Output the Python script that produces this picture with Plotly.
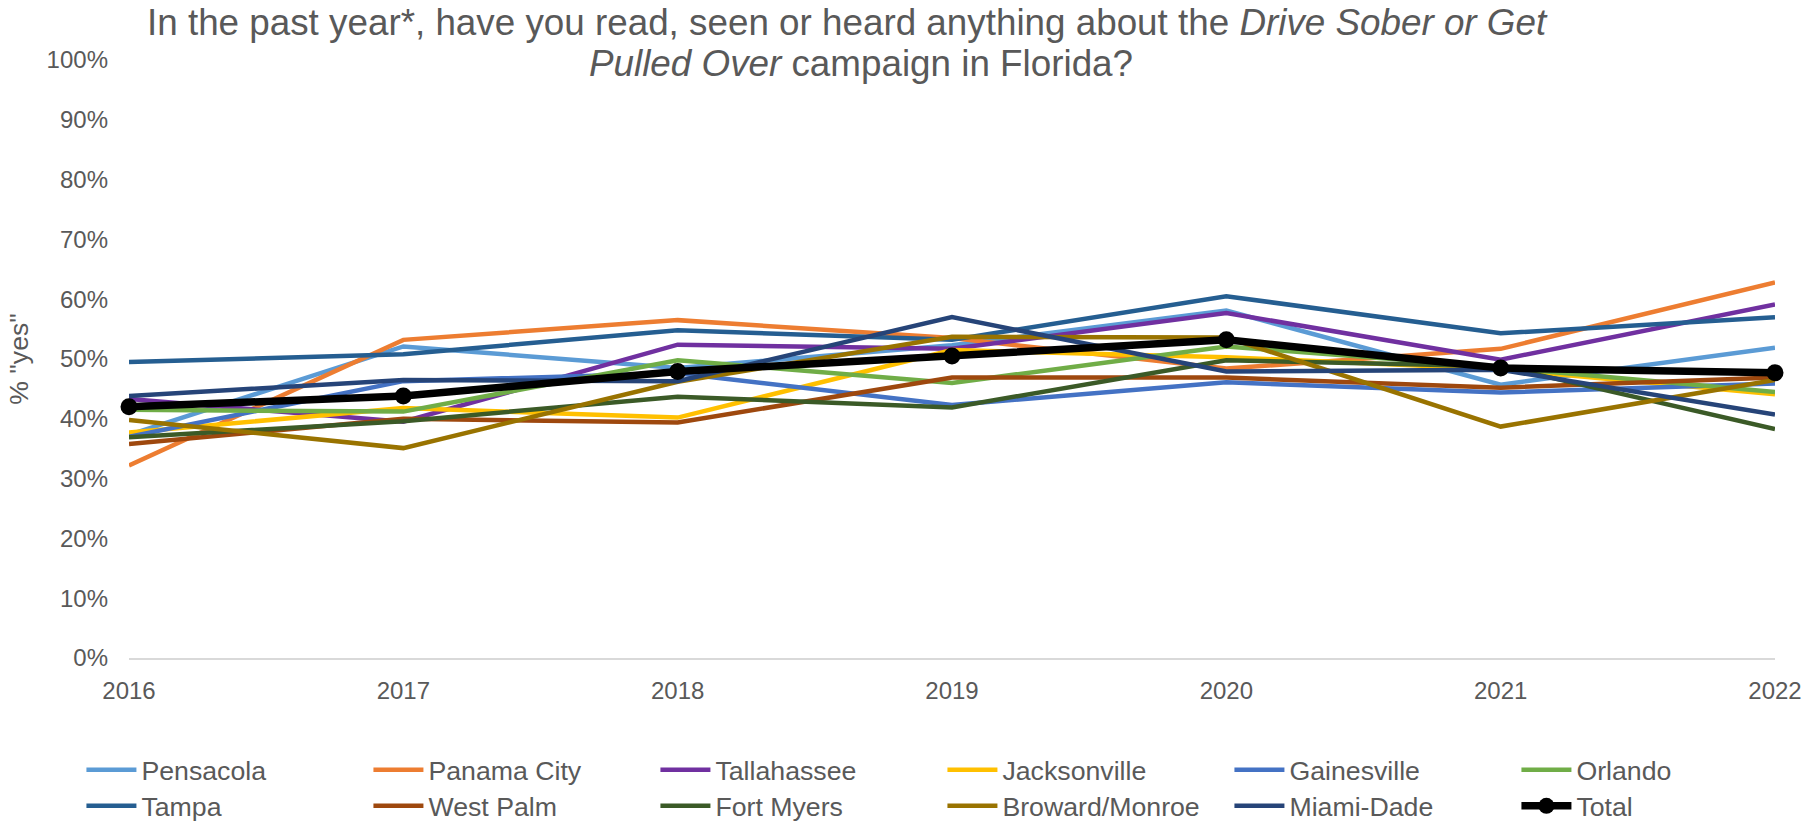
import plotly.graph_objects as go

years = [2016, 2017, 2018, 2019, 2020, 2021, 2022]

pensacola    = [37.3, 52.1, 48.5, 52.3, 58.1, 45.7, 51.9]
panama_city  = [32.2, 53.2, 56.5, 53.5, 48.4, 51.7, 62.8]
tallahassee  = [43.3, 39.5, 52.4, 51.7, 57.7, 49.9, 59.1]
jacksonville = [37.7, 41.8, 40.2, 51.5, 50.3, 48.3, 44.1]
gainesville  = [37.0, 46.3, 47.6, 42.3, 46.1, 44.4, 45.9]
orlando      = [41.5, 41.2, 49.8, 46.0, 52.1, 48.6, 44.5]
tampa        = [49.5, 50.8, 54.8, 53.2, 60.5, 54.3, 57.0]
west_palm    = [35.8, 40.0, 39.4, 46.9, 46.9, 45.2, 46.9]
fort_myers   = [36.9, 39.6, 43.7, 41.9, 49.8, 48.8, 38.3]
broward      = [39.8, 35.1, 46.2, 53.7, 53.6, 38.7, 46.5]
miami_dade   = [43.8, 46.5, 46.3, 57.0, 47.9, 48.2, 40.7]
total        = [42.0, 43.8, 47.9, 50.5, 53.2, 48.5, 47.7]

series = [
    ("Pensacola", pensacola, "#5B9BD5"),
    ("Panama City", panama_city, "#ED7D31"),
    ("Tallahassee", tallahassee, "#7030A0"),
    ("Jacksonville", jacksonville, "#FFC000"),
    ("Gainesville", gainesville, "#4472C4"),
    ("Orlando", orlando, "#70AD47"),
    ("Tampa", tampa, "#255E91"),
    ("West Palm", west_palm, "#9E480E"),
    ("Fort Myers", fort_myers, "#3B5A27"),
    ("Broward/Monroe", broward, "#997300"),
    ("Miami-Dade", miami_dade, "#264478"),
]

# legend grid: 2 rows x 6 columns, split into 4 legends of 3 entries each
legend_ids = ["legend", "legend", "legend", "legend2", "legend2", "legend2",
              "legend3", "legend3", "legend3", "legend4", "legend4", "legend4"]

fig = go.Figure()
for i, (name, vals, color) in enumerate(series):
    fig.add_trace(go.Scatter(
        x=years, y=[v / 100 for v in vals], name=name, mode="lines",
        line=dict(color=color, width=4.5), cliponaxis=False,
        legend=legend_ids[i],
    ))
fig.add_trace(go.Scatter(
    x=years, y=[v / 100 for v in total], name="Total", mode="lines+markers",
    line=dict(color="black", width=7.5), marker=dict(color="black", size=17),
    cliponaxis=False, legend=legend_ids[11],
))

grey = "#595959"
leg_common = dict(
    orientation="h", xanchor="left", yref="container",
    yanchor="middle", entrywidth=222, entrywidthmode="pixels", itemwidth=50,
    font=dict(size=26.7, color=grey), bgcolor="rgba(0,0,0,0)",
)
x_left = -0.0289
x_mid = x_left + 3 * 287 / 1646
y_row1 = 1 - 770 / 827
y_row2 = 1 - 806 / 827

fig.update_layout(
    width=1820, height=827,
    paper_bgcolor="white", plot_bgcolor="white",
    margin=dict(l=129, r=45, t=60, b=169),
    font=dict(family="Arial, Liberation Sans, sans-serif", color=grey, size=24),
    xaxis=dict(
        type="linear", range=[2016, 2022], tickvals=years,
        showgrid=False, zeroline=False, showline=True, linecolor="#D9D9D9",
        linewidth=2, ticks="", ticklabelstandoff=10,
        tickfont=dict(size=24, color=grey),
    ),
    yaxis=dict(
        range=[0, 1], dtick=0.1, tickformat=".0%", showgrid=False,
        zeroline=False, showline=False, ticks="", ticklabelstandoff=20,
        tickfont=dict(size=24, color=grey),
        title=dict(text='% "yes"', font=dict(size=26.7, color=grey), standoff=10),
    ),
    legend=dict(leg_common, x=x_left, y=y_row1),
    legend2=dict(leg_common, x=x_mid, y=y_row1),
    legend3=dict(leg_common, x=x_left, y=y_row2),
    legend4=dict(leg_common, x=x_mid, y=y_row2),
    showlegend=True,
)

title_font = dict(size=36.8, color=grey, family="Arial, Liberation Sans, sans-serif")
fig.add_annotation(
    text="In the past year*, have you read, seen or heard anything about the <i>Drive Sober or Get</i>",
    xref="paper", yref="paper", x=(847 - 129) / 1646, y=(658 - 23) / 598,
    xanchor="center", yanchor="middle", showarrow=False, font=title_font,
)
fig.add_annotation(
    text="<i>Pulled Over</i> campaign in Florida?",
    xref="paper", yref="paper", x=(861 - 129) / 1646, y=(658 - 63) / 598,
    xanchor="center", yanchor="middle", showarrow=False, font=title_font,
)

fig.write_html("out.html")
